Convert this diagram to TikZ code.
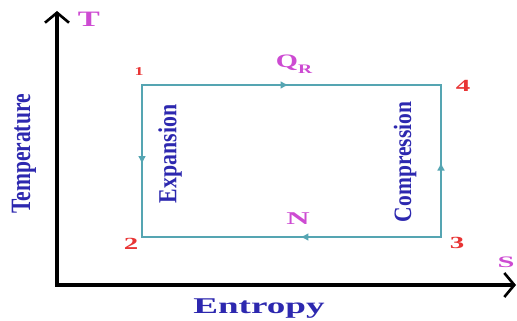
\documentclass[tikz,border=0pt]{standalone}
\usepackage{fontspec}
\usepackage{graphicx}
\setmainfont{Liberation Serif}
\usetikzlibrary{arrows.meta,decorations.markings}
\definecolor{cycle}{RGB}{85,165,178}
\definecolor{lblred}{RGB}{232,52,52}
\definecolor{lblmag}{RGB}{205,75,210}
\definecolor{lblblue}{RGB}{45,40,175}
\newcommand{\hs}[2]{\scalebox{#1}[1]{#2}}
\newcommand{\vtext}[2]{\rotatebox{90}{\scalebox{#1}[1]{#2}}}
\tikzset{
  axis/.style={line width=3.2pt, black, -{Straight Barb[length=10pt,width=24pt,line width=2.6pt]}},
  side/.style={line width=2.6pt, cycle, line cap=rect,
    postaction={decorate},
    decoration={markings, mark=at position #1 with {\arrow{Latex[length=8pt,width=8pt]}}}},
  side/.default=0.5,
  lbl/.style={inner sep=0pt, font=\bfseries},
  pt/.style={lbl, text=lblred},
  mg/.style={lbl, text=lblmag},
  bl/.style={lbl, text=lblblue},
}
\begin{document}
\begin{tikzpicture}[x=1pt,y=-1pt]
\useasboundingbox (0,0) rectangle (517,321);
\coordinate (o) at (57,285);
\coordinate (ytip) at (57,11);
\coordinate (xtip) at (516,285);
\coordinate (p1) at (142,85);
\coordinate (p4) at (441,85);
\coordinate (p3) at (441,237);
\coordinate (p2) at (142,237);
\draw[axis] ([yshift=1.6pt]o) -- (ytip);
\draw[axis] ([xshift=-1.6pt]o) -- (xtip);
\draw[side=0.49] (p1) -- (p4);
\draw[side=0.49] (p3) -- (p4);
\draw[side=0.52] (p1) -- (p2);
\draw[side=0.47] (p3) -- (p2);
\node[mg, font=\bfseries\fontsize{22}{22}\selectfont] (T) at (89,19) {\hs{1.5}{T}};
\node[mg, font=\bfseries\fontsize{16}{16}\selectfont] (S) at (506,262) {\hs{1.9}{S}};
\node[pt, font=\bfseries\fontsize{12}{12}\selectfont] (n1) at (139,72) {\hs{1.5}{1}};
\node[pt, font=\bfseries\fontsize{17}{17}\selectfont] (n4) at (463,86) {\hs{1.7}{4}};
\node[pt, font=\bfseries\fontsize{17}{17}\selectfont] (n2) at (131,244) {\hs{1.7}{2}};
\node[pt, font=\bfseries\fontsize{17}{17}\selectfont] (n3) at (457,243) {\hs{1.7}{3}};
\node[mg, font=\bfseries\fontsize{19}{19}\selectfont] (QR) at (294,64) {\hs{1.5}{Q\raisebox{-6pt}{\fontsize{13}{13}\selectfont R}}};
\node[mg, font=\bfseries\fontsize{18}{18}\selectfont] (N) at (298,219) {\hs{1.8}{N}};
\node[bl, font=\bfseries\fontsize{22.5}{22.5}\selectfont] (E) at (259,309) {\hs{1.65}{Entropy}};
\node[bl, font=\bfseries\fontsize{28}{28}\selectfont] (Tmp) at (24,154) {\vtext{0.77}{Temperature}};
\node[bl, font=\bfseries\fontsize{26}{26}\selectfont] (Ex) at (170,154) {\vtext{0.84}{Expansion}};
\node[bl, font=\bfseries\fontsize{25}{25}\selectfont] (Co) at (405,162) {\vtext{0.86}{Compression}};
\end{tikzpicture}
\end{document}
